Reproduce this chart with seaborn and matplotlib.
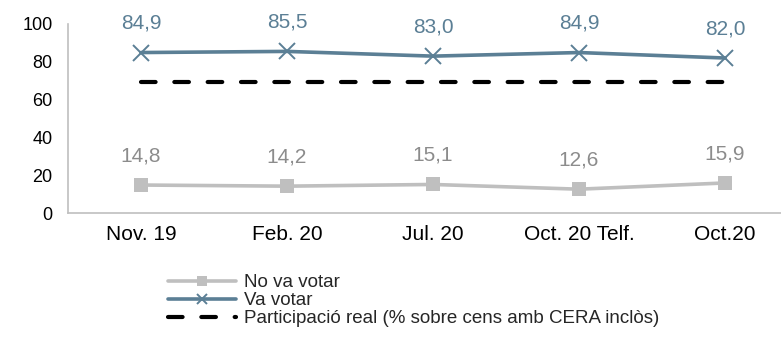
import matplotlib
matplotlib.use("Agg")
import matplotlib.pyplot as plt
import seaborn as sns
import pandas as pd
import numpy as np

# Survey waves and series
categories = ["Nov. 19", "Feb. 20", "Jul. 20", "Oct. 20 Telf.", "Oct.20"]
no_va_votar = [14.8, 14.2, 15.1, 12.6, 15.9]
va_votar = [84.9, 85.5, 83.0, 84.9, 82.0]
participacio_real = [69.4, 69.4, 69.4, 69.4, 69.4]
y_ticks = [0, 20, 40, 60, 80, 100]

labels = ["No va votar", "Va votar", "Participació real (% sobre cens amb CERA inclòs)"]

sns.set_theme(style="white")
plt.rcParams["font.family"] = ["Liberation Sans", "DejaVu Sans"]

GREY = "#BFBFBF"
GREY_TXT = "#8C8C8C"
BLUE = "#5B7F95"

fig = plt.figure(figsize=(7.81, 3.38), dpi=100)
W, H = 781, 338
ax = fig.add_axes([68 / W, (H - 213) / H, 730 / W, (213 - 24) / H])

pos = np.arange(len(categories))
df = pd.DataFrame({
    "pos": np.tile(pos, 3),
    "valor": no_va_votar + va_votar + participacio_real,
    "serie": np.repeat(labels, len(categories)),
})

sns.lineplot(data=df[df.serie == labels[0]], x="pos", y="valor", ax=ax,
             color=GREY, lw=2.6, marker="s", markersize=9.5, markeredgewidth=0,
             label=labels[0])
sns.lineplot(data=df[df.serie == labels[1]], x="pos", y="valor", ax=ax,
             color=BLUE, lw=2.6, marker="x", markersize=11, markeredgewidth=1.4,
             markeredgecolor=BLUE, label=labels[1])
sns.lineplot(data=df[df.serie == labels[2]], x="pos", y="valor", ax=ax,
             color="black", lw=3, label=labels[2])
dash_line = ax.get_lines()[2]
dash_line.set_dashes((3.5, 4.5))
dash_line.set_dash_capstyle("round")

# Value labels above each point, with decimal comma
for xi, v in zip(pos, no_va_votar):
    ax.annotate(f"{v:.1f}".replace(".", ","), (xi, v), xytext=(0, 21),
                textcoords="offset points", ha="center", va="center",
                fontsize=15, color=GREY_TXT)
for xi, v in zip(pos, va_votar):
    ax.annotate(f"{v:.1f}".replace(".", ","), (xi, v), xytext=(0, 21),
                textcoords="offset points", ha="center", va="center",
                fontsize=15, color=BLUE)

ax.set_xlim(-0.5, len(categories) - 0.5)
ax.set_ylim(0, 100)
ax.set_yticks(y_ticks)
ax.set_yticklabels([str(t) for t in y_ticks], fontsize=13)
ax.set_xticks(pos)
ax.set_xticklabels(categories, fontsize=15)
ax.tick_params(axis="both", length=0, colors="black")
ax.tick_params(axis="y", pad=11)
ax.tick_params(axis="x", pad=9)
ax.set_xlabel("")
ax.set_ylabel("")

for side in ["top", "right"]:
    ax.spines[side].set_visible(False)
for side in ["left", "bottom"]:
    ax.spines[side].set_color(GREY)
    ax.spines[side].set_linewidth(1.2)

ax.legend(loc="upper left", bbox_to_anchor=(168 / W, 1 - 274 / H),
          bbox_transform=fig.transFigure, frameon=False, fontsize=13.5,
          handlelength=3.6, handletextpad=0.45, labelspacing=0.05,
          markerscale=0.7, borderpad=0, borderaxespad=0)

fig.savefig("out.png", dpi=100)
